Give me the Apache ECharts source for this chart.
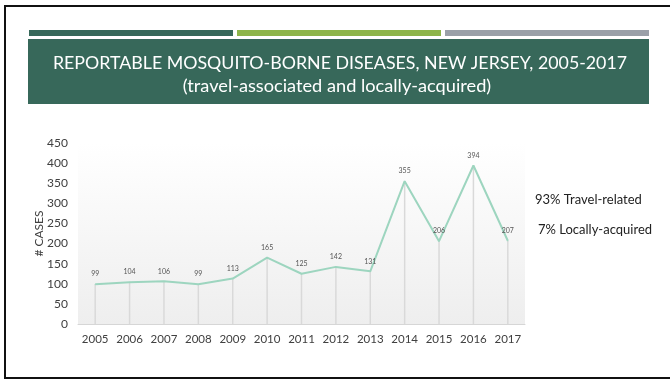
<!DOCTYPE html>
<html>
<head>
<meta charset="utf-8">
<script src="https://cdn.jsdelivr.net/npm/echarts@6/dist/echarts.min.js"></script>
<style>
html,body{margin:0;padding:0;background:#fff;}
#chart{width:670px;height:380px;}
</style>
</head>
<body>
<div id="chart"></div>
<script>
var years = ['2005','2006','2007','2008','2009','2010','2011','2012','2013','2014','2015','2016','2017'];
var cases = [99, 104, 106, 99, 113, 165, 125, 142, 131, 355, 206, 394, 207];
var yTicks = {min: 0, max: 450, interval: 50};
var titleText = 'REPORTABLE MOSQUITO-BORNE DISEASES, NEW JERSEY, 2005-2017';
var subText = '(travel-associated and locally-acquired)';
var notes = ['93% Travel-related', '7% Locally-acquired'];

var FONT = 'Lato, "Open Sans", sans-serif';
var chart = echarts.init(document.getElementById('chart'), null, {renderer: 'canvas'});
chart.setOption({
  backgroundColor: '#ffffff',
  animation: false,
  title: [
    {text: titleText, left: 335, top: 49, textAlign: 'center',
     textStyle: {color: '#ffffff', fontFamily: FONT, fontSize: 17.8, fontWeight: 'normal'}},
    {text: subText, left: 332, top: 72, textAlign: 'center',
     textStyle: {color: '#ffffff', fontFamily: FONT, fontSize: 18.2, fontWeight: 'normal'}}
  ],
  graphic: [
    {type: 'rect', z: -10, shape: {x: 4, y: 5, width: 2, height: 374}, style: {fill: '#111'}},
    {type: 'rect', z: -10, shape: {x: 4, y: 5, width: 666, height: 2}, style: {fill: '#111'}},
    {type: 'rect', z: -10, shape: {x: 4, y: 377, width: 666, height: 2}, style: {fill: '#111'}},
    {type: 'rect', z: -10, shape: {x: 29, y: 30, width: 204, height: 6}, style: {fill: '#37685a'}},
    {type: 'rect', z: -10, shape: {x: 237, y: 30, width: 204, height: 6}, style: {fill: '#8db54a'}},
    {type: 'rect', z: -10, shape: {x: 445, y: 30, width: 204, height: 6}, style: {fill: '#9aa0a8'}},
    {type: 'rect', z: -10, shape: {x: 28, y: 39, width: 621, height: 65}, style: {fill: '#37685a'}},
    {type: 'text', left: 535, top: 193, style: {text: notes[0], fill: '#222', font: '13px ' + FONT}},
    {type: 'text', left: 538, top: 223, style: {text: notes[1], fill: '#222', font: '13px ' + FONT}}
  ],
  grid: {
    left: 78, right: 145, top: 143, bottom: 56, show: true, borderWidth: 0,
    backgroundColor: new echarts.graphic.LinearGradient(0, 0, 0, 1, [
      {offset: 0, color: '#ffffff'}, {offset: 1, color: '#eeeeee'}
    ])
  },
  xAxis: {
    type: 'category', data: years, boundaryGap: true,
    axisLine: {show: true, lineStyle: {color: '#d6d6d6', width: 1}},
    axisTick: {show: false},
    axisLabel: {color: '#404040', fontFamily: FONT, fontSize: 11.5, margin: 9, interval: 0, hideOverlap: false}
  },
  yAxis: {
    type: 'value', min: yTicks.min, max: yTicks.max, interval: yTicks.interval,
    name: '# CASES', nameLocation: 'middle', nameGap: 33, nameRotate: 90, nameMoveOverlap: false,
    nameTextStyle: {color: '#404040', fontFamily: FONT, fontSize: 12},
    axisLine: {show: false}, axisTick: {show: false}, splitLine: {show: false},
    axisLabel: {color: '#404040', fontFamily: FONT, fontSize: 12, margin: 10}
  },
  series: [
    {type: 'bar', data: cases, barWidth: 1.5, silent: true,
     itemStyle: {color: '#d9d9d9'}, z: 1},
    {type: 'line', data: cases, symbol: 'circle', symbolSize: 1, showSymbol: true, z: 3,
     itemStyle: {color: '#9dd5bf'},
     lineStyle: {color: '#9dd5bf', width: 2},
     labelLayout: {hideOverlap: false},
     label: {show: true, position: 'top', distance: 6, color: '#555', fontSize: 7, fontFamily: FONT}}
  ]
});
</script>
</body>
</html>
